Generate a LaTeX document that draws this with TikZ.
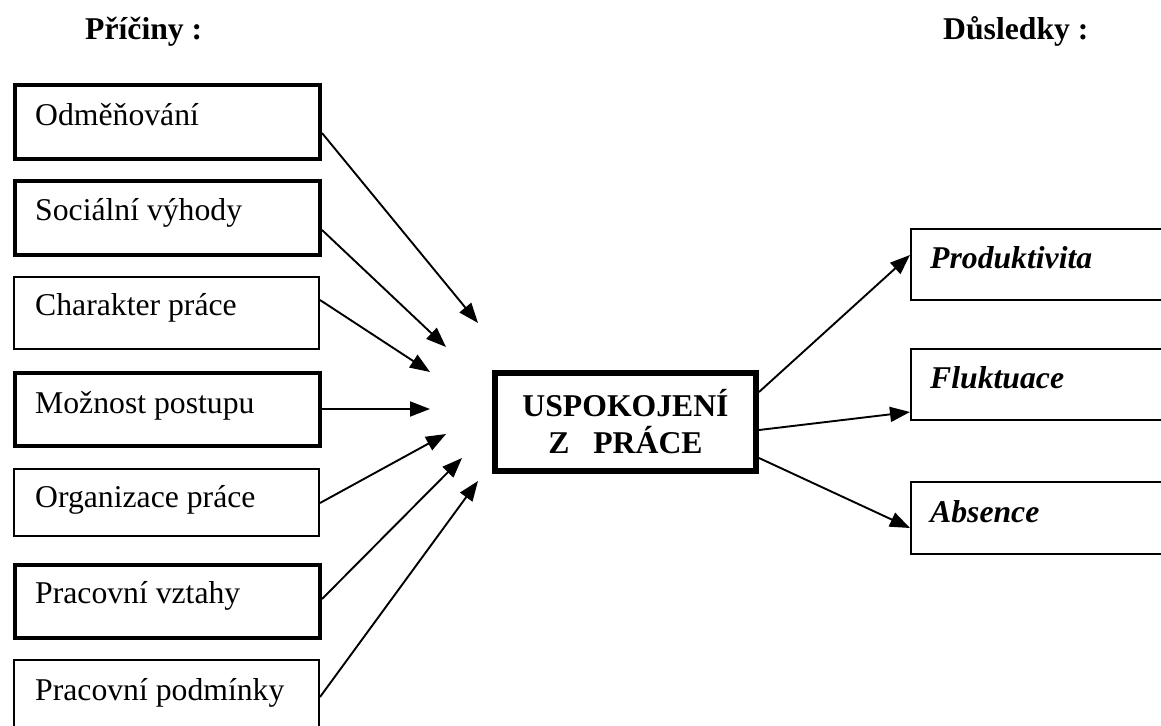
\documentclass[tikz,border=0pt]{standalone}
\usepackage{fontspec}
\setmainfont{Liberation Serif}
\usetikzlibrary{arrows.meta,calc}
\begin{document}
\begin{tikzpicture}[x=1pt,y=-1pt,
  box/.style={draw, line width=2pt, anchor=north west, inner sep=0pt, minimum width=305pt},
  thickbox/.style={box, line width=4pt},
  rbox/.style={draw, line width=2.2pt, anchor=north west, inner sep=0pt, minimum width=260pt},
  txt/.style={anchor=base west, inner sep=0pt, font=\fontsize{31.7}{38}\selectfont},
  head/.style={anchor=base west, inner sep=0pt, font=\fontsize{31.7}{38}\selectfont\bfseries},
  rtxt/.style={anchor=base west, inner sep=0pt, font=\fontsize{31.7}{38}\selectfont\bfseries\itshape},
  arr/.style={line width=1.9pt, -{Triangle[length=20pt,width=15pt]}}]
\useasboundingbox (0,0) rectangle (1161,725);
\clip (0,0) rectangle (1161,725);
% headings
\node[head] (h1) at (85,40) {Příčiny :};
\node[head] (h2) at (943,40) {Důsledky :};
% left boxes
\node[thickbox, minimum height=74pt] (b1) at (13,83) {};
\node[thickbox, minimum height=74pt] (b2) at (13,179) {};
\node[box, minimum height=72pt] (b3) at (13,276) {};
\node[thickbox, minimum height=73pt] (b4) at (13,371) {};
\node[box, minimum height=67pt] (b5) at (13,468) {};
\node[thickbox, minimum height=73pt] (b6) at (13,563) {};
\node[box, minimum height=74pt] (b7) at (13,659) {};
\node[txt] (t1) at (35,125) {Odměňování};
\node[txt] (t2) at (35,220) {Sociální výhody};
\node[txt] (t3) at (35,315) {Charakter práce};
\node[txt] (t4) at (35,413) {Možnost postupu};
\node[txt] (t5) at (35,507) {Organizace práce};
\node[txt] (t6) at (35,603) {Pracovní vztahy};
\node[txt] (t7) at (35,700) {Pracovní podmínky};
% center box
\node[draw, line width=6pt, anchor=north west, inner sep=0pt, minimum width=261pt, minimum height=98pt,
      align=center, font=\fontsize{31.7}{37}\selectfont\bfseries] (c) at (492,370)
      {USPOKOJENÍ\\Z\ \ \ PRÁCE};
% right boxes
\node[rbox, minimum height=71pt] (r1) at (910,228) {};
\node[rbox, minimum height=71pt] (r2) at (910,348) {};
\node[rbox, minimum height=72pt] (r3) at (910,481) {};
\node[rtxt] (s1) at (930,268) {Produktivita};
\node[rtxt] (s2) at (930,388) {Fluktuace};
\node[rtxt] (s3) at (930,522) {Absence};
% arrow tips (free ends)
\coordinate (p1) at (478,323);
\coordinate (p2) at (446,347);
\coordinate (p3) at (430,372);
\coordinate (p4) at (430,409);
\coordinate (p5) at (446,434);
\coordinate (p6) at (462,458);
\coordinate (p7) at (478,481);
% left arrows
\draw[arr] (b1.east |- 0,133) -- (p1);
\draw[arr] (b2.east |- 0,230) -- (p2);
\draw[arr] (b3.east |- 0,300) -- (p3);
\draw[arr] (b4.east |- 0,409) -- (p4);
\draw[arr] (b5.east |- 0,503) -- (p5);
\draw[arr] (b6.east |- 0,599) -- (p6);
\draw[arr] (b7.east |- 0,697) -- (p7);
% right arrows
\draw[arr] (c.east |- 0,392) -- (r1.west |- 0,255);
\draw[arr] (c.east |- 0,430) -- (r2.west |- 0,412);
\draw[arr] (c.east |- 0,458) -- (r3.west |- 0,528);
\end{tikzpicture}
\end{document}
